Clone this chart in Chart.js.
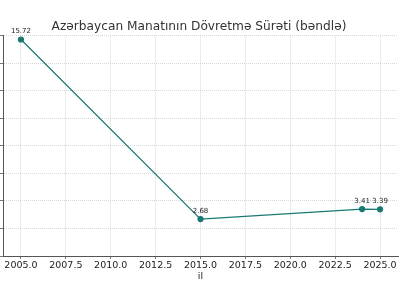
<!DOCTYPE html>
<html>
<head>
<meta charset="utf-8">
<script src="https://cdn.jsdelivr.net/npm/chart.js@4/dist/chart.umd.min.js"></script>
<style>
html,body{margin:0;padding:0;background:#fff;}
#wrap{width:400px;height:306px;}
</style>
</head>
<body>
<div id="wrap"><canvas id="c" width="400" height="306"></canvas></div>
<script>
const years = [2005, 2015, 2024, 2025];
const values = [15.72, 2.68, 3.41, 3.39];
const xTicks = [2005, 2007.5, 2010, 2012.5, 2015, 2017.5, 2020, 2022.5, 2025];
const yTicks = [0, 2, 4, 6, 8, 10, 12, 14, 16];
const titleText = 'Azərbaycan Manatının Dövretmə Sürəti (bəndlə)';
const xTitle = 'il';

const FONT = "'DejaVu Sans', sans-serif";
const lineColor = '#177a72';

const labelPlugin = {
  id: 'pointLabels',
  afterDatasetsDraw(chart) {
    const ctx = chart.ctx;
    const meta = chart.getDatasetMeta(0);
    ctx.save();
    ctx.font = '7px ' + FONT;
    ctx.fillStyle = '#222';
    ctx.textAlign = 'center';
    ctx.textBaseline = 'alphabetic';
    meta.data.forEach((pt, i) => {
      ctx.fillText(values[i].toFixed(2), pt.x, pt.y - 6);
    });
    ctx.restore();
  }
};

new Chart(document.getElementById('c'), {
  type: 'line',
  data: {
    datasets: [{
      data: years.map((y, i) => ({x: y, y: values[i]})),
      borderColor: lineColor,
      backgroundColor: lineColor,
      borderWidth: 1.2,
      pointRadius: 2.5,
      pointBackgroundColor: lineColor,
      pointBorderColor: lineColor,
      tension: 0,
      clip: false
    }]
  },
  options: {
    responsive: false,
    animation: false,
    devicePixelRatio: 1,
    layout: {autoPadding: false, padding: {left: 0, right: 2, top: 0, bottom: 24}},
    plugins: {
      legend: {display: false},
      tooltip: {enabled: false},
      title: {
        display: true,
        text: titleText,
        color: '#333',
        font: {family: FONT, size: 12.2, weight: 'normal'},
        padding: {top: 20, bottom: 1}
      }
    },
    scales: {
      x: {
        type: 'linear',
        min: 2004,
        max: 2026,
        afterBuildTicks: s => { s.ticks = xTicks.map(v => ({value: v})); },
        afterFit: s => { s.height = 26; s.paddingLeft = 0; s.paddingRight = 0; },
        ticks: {
          callback: v => Number(v).toFixed(1),
          color: '#222',
          font: {family: FONT, size: 9.5},
          padding: 1,
          maxRotation: 0,
          autoSkip: false
        },
        grid: {color: '#cfcfcf', tickLength: 3, tickColor: '#555', lineWidth: 0.8},
        border: {display: true, color: '#555', width: 1, dash: [1, 1]},
        title: {
          display: true,
          text: xTitle,
          color: '#222',
          font: {family: FONT, size: 9.5},
          padding: {top: 0, bottom: 0}
        }
      },
      y: {
        type: 'linear',
        min: 0,
        max: 16,
        afterBuildTicks: s => { s.ticks = yTicks.map(v => ({value: v})); },
        afterFit: s => { s.width = 3; s.paddingTop = 0; s.paddingBottom = 0; },
        ticks: {callback: () => '', display: true, padding: 0},
        grid: {color: '#cfcfcf', tickLength: 3, tickColor: '#555', lineWidth: 0.8},
        border: {display: true, color: '#555', width: 1, dash: [1, 1]}
      }
    }
  },
  plugins: [labelPlugin]
});
</script>
</body>
</html>
